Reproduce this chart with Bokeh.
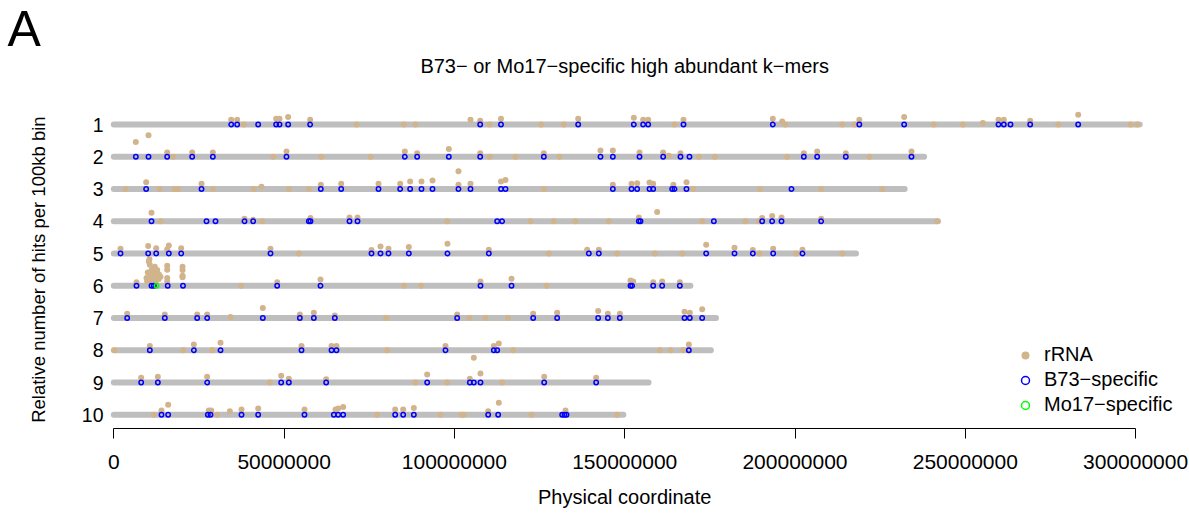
import numpy as np
from bokeh.plotting import figure
from bokeh.models import Range1d, FixedTicker, Label, Legend, LegendItem, LinearAxis
from bokeh.core.properties import value
from bokeh.embed import file_html
from bokeh.resources import INLINE

# ---------------- data ----------------
chromosomes = [1, 2, 3, 4, 5, 6, 7, 8, 9, 10]
chrom_labels = ["1", "2", "3", "4", "5", "6", "7", "8", "9", "10"]
chrom_length_mb = [301.2, 237.9, 232.2, 242.0, 217.9, 169.3, 176.8, 175.3, 157.0, 149.6]

x_ticks = [0, 50000000, 100000000, 150000000, 200000000, 250000000, 300000000]
x_tick_labels = ["0", "50000000", "100000000", "150000000", "200000000", "250000000", "300000000"]

# rRNA hits: position (Mb) and relative number of hits (bin height)
rrna_pos_chr1 = [34.46, 36.22, 38.18, 47.67, 48.65, 51.19, 57.65, 71.26, 85.15, 88.58, 104.73, 107.57, 110.40,
                 113.68, 125.48, 132.13, 136.34, 152.68, 155.42, 156.89, 164.62, 167.26, 193.49, 196.23, 197.21,
                 213.85, 217.47, 218.88, 232.05, 240.76, 249.27, 255.15, 259.75, 261.31, 269.05, 277.27, 283.14,
                 298.50, 300.46]
rrna_hits_chr1 = [1.5, 1.5, 0, 1.8, 1.8, 2.3, 1.5, 0, 0, 0, 1.5, 1.2, 0,
                  1.8, 0, 0, 1.8, 2.1, 1.5, 1.5, 0, 1.5, 1.8, 0.9, 0,
                  0, 0, 1.5, 2.3, 0, 0, 0.5, 1.5, 1.5, 1.2, 0, 3.0,
                  0, 0]
rrna_pos_chr2 = [6.47, 10.19, 15.67, 17.43, 23.01, 29.08, 46.79, 50.70, 60.98, 75.37, 85.45, 89.07, 98.36,
                 107.57, 110.40, 117.94, 126.26, 130.86, 142.89, 146.52, 154.35, 161.29, 162.96, 166.38,
                 171.76, 176.46, 197.70, 202.59, 206.51, 214.92, 221.87, 234.20]
rrna_hits_chr2 = [4.6, 6.7, 1.3, 0, 1.3, 1.3, 0, 1.6, 0, 0, 1.6, 1.1, 2.4,
                  1.1, 0, 0, 1.1, 0, 1.9, 1.9, 1.3, 1.3, 0.3, 1.1,
                  0, 0, 0, 1.1, 1.6, 1.1, 0, 1.6]
rrna_pos_chr3 = [3.44, 9.50, 13.42, 17.82, 18.80, 25.75, 29.08, 41.11, 43.36, 51.39, 57.26, 60.78, 66.76,
                 77.72, 84.08, 87.01, 90.34, 93.57, 101.20, 101.20, 104.73, 113.68, 115.00, 126.26, 146.52,
                 152.00, 153.66, 157.28, 158.36, 164.30, 168.14, 170.10, 189.68, 207.68, 225.59]
rrna_hits_chr3 = [0, 2.1, 0, 0, 0, 1.6, 0, 0, 0.7, 0, 0, 1.3, 1.6,
                  1.6, 1.6, 2.3, 2.3, 2.6, 5.5, 1.3, 1.6, 2.3, 2.8, 0, 1.3,
                  1.6, 1.8, 2.0, 1.6, 1.3, 2.1, 0, 0, 0, 0]
rrna_pos_chr4 = [11.07, 13.71, 38.37, 40.92, 43.56, 57.75, 69.20, 71.55, 97.88, 122.34, 129.19, 135.55,
                 145.34, 154.15, 159.53, 172.75, 185.47, 189.38, 190.36, 193.30, 196.04, 207.68, 241.74]
rrna_hits_chr4 = [2.6, 0, 0.8, 0.5, 0, 1.0, 1.2, 1.2, 0, 0, 0, 0,
                  0, 1.2, 2.9, 0, 0, 0, 1.0, 1.6, 1.2, 0.8, 0]
rrna_pos_chr5 = [1.97, 10.09, 12.44, 15.67, 16.16, 19.78, 46.01, 54.33, 75.66, 78.30, 80.65, 86.62, 97.97,
                 110.11, 127.72, 138.98, 142.40, 147.79, 158.85, 166.87, 173.92, 182.24, 187.62, 189.58,
                 193.59, 200.34, 202.20, 213.85]
rrna_hits_chr5 = [1.5, 2.3, 1.6, 1.3, 2.5, 1.6, 1.5, 0, 1.1, 2.2, 1.5, 2.0, 3.0,
                  1.2, 0, 1.2, 1.2, 0, 0, 0, 2.7, 1.8, 1.1, 0,
                  1.5, 0, 1.2, 0]
rrna_pos_chr6 = [6.66, 9.60, 9.80, 9.98, 10.28, 10.28, 10.45, 10.57, 10.78, 11.00, 11.27, 11.27, 11.57,
                 11.80, 12.04, 12.24, 12.24, 12.40, 12.74, 12.92, 13.21, 13.30, 13.71, 15.68, 15.68, 15.68,
                 15.68, 20.18, 20.18, 20.18, 20.18, 37.40, 47.97, 60.69, 85.15, 90.24, 107.66, 116.77,
                 127.04, 151.70, 152.49, 158.36, 161.00, 166.19]
rrna_hits_chr6 = [1.1, 2.4, 1.4, 4.1, 7.5, 1.3, 8.2, 6.5, 3.1, 4.6, 5.2, 2.1, 4.1,
                  1.6, 5.9, 2.8, 1.0, 4.4, 4.9, 3.8, 2.1, 3.4, 2.8, 6.2, 5.0, 2.4,
                  1.3, 5.9, 4.9, 3.1, 2.6, 0, 1.1, 1.9, 0, 0, 1.3, 2.2,
                  0, 1.6, 1.3, 1.1, 1.3, 1.1]
rrna_pos_chr7 = [3.93, 14.98, 24.48, 27.41, 34.26, 43.75, 54.62, 58.73, 64.89, 79.97, 100.81, 104.43,
                 109.13, 115.69, 123.13, 130.17, 142.21, 145.05, 148.57, 167.56, 169.12, 172.75]
rrna_hits_chr7 = [1.3, 1.1, 1.1, 1.1, 0.3, 3.1, 1.1, 1.6, 0.8, 0, 1.1, 0,
                  0, 0, 1.3, 1.6, 2.2, 1.3, 1.3, 1.9, 1.6, 2.7]
rrna_pos_chr8 = [0.21, 10.58, 20.37, 23.50, 28.88, 31.33, 55.11, 63.92, 65.38, 80.26, 97.39, 111.58,
                 113.04, 117.25, 160.31, 163.45, 167.17, 168.83]
rrna_hits_chr8 = [0, 1.3, 0, 1.8, 0, 2.3, 1.3, 1.3, 1.3, 0, 1.3, 1.3,
                  2.1, 0, 0, 0, 0, 1.8]
rrna_pos_chr9 = [8.04, 12.93, 27.41, 45.81, 49.14, 51.39, 62.35, 88.58, 92.01, 97.88, 104.53, 105.70,
                 107.66, 114.02, 126.36, 141.62]
rrna_hits_chr9 = [1.5, 1.8, 1.8, 0, 2.1, 1.2, 1.0, 0, 2.5, 0, 1.2, 7.7,
                  2.8, 0, 1.8, 1.5]
rrna_pos_chr10 = [11.75, 14.00, 15.96, 27.90, 28.59, 30.35, 34.07, 37.49, 42.39, 55.99, 65.09, 65.87,
                  67.34, 77.33, 82.61, 84.96, 88.09, 95.92, 102.09, 102.77, 109.92, 113.04, 122.64,
                  132.62, 147.79]
rrna_hits_chr10 = [0, 1.3, 3.1, 1.3, 1.3, 0, 1.1, 1.6, 1.9, 1.6, 1.6, 1.9,
                   2.4, 0, 1.6, 1.6, 2.1, 0, 0, 0, 1.1, 3.7, 0,
                   1.3, 0]

# B73-specific k-mer positions (Mb)
b73_pos_chr1 = [34.46, 36.22, 42.39, 47.67, 48.65, 51.19, 57.65, 107.57, 113.68, 136.34, 152.68, 155.42,
                156.89, 167.26, 193.49, 218.88, 232.05, 259.75, 261.31, 263.27, 269.05, 283.14]
b73_pos_chr2 = [6.47, 10.19, 15.67, 23.01, 29.08, 50.70, 85.45, 89.07, 98.36, 107.57, 126.26, 142.89,
                146.52, 154.35, 161.29, 166.38, 169.02, 202.59, 206.51, 214.92, 234.20]
b73_pos_chr3 = [9.50, 25.75, 60.78, 66.76, 77.72, 84.08, 87.01, 90.34, 93.57, 101.20, 104.73, 113.68,
                115.00, 146.52, 152.00, 153.66, 157.28, 158.36, 163.94, 164.62, 168.14, 198.97]
b73_pos_chr4 = [11.07, 27.22, 29.86, 38.37, 40.92, 57.26, 57.75, 69.20, 71.55, 112.56, 114.02, 154.15,
                154.64, 176.17, 190.36, 193.30, 196.04, 207.68]
b73_pos_chr5 = [1.97, 10.09, 12.44, 16.16, 19.78, 46.01, 75.66, 78.30, 80.65, 86.62, 97.97, 110.11,
                139.47, 142.40, 173.92, 182.24, 187.62, 193.59, 202.20]
b73_pos_chr6 = [6.66, 11.07, 11.75, 15.83, 20.32, 47.97, 60.69, 107.66, 116.77, 151.70, 152.19, 158.36,
                161.00, 166.19]
b73_pos_chr7 = [3.93, 14.98, 24.48, 27.41, 43.75, 54.62, 58.73, 64.89, 100.81, 123.13, 130.17, 142.21,
                145.05, 148.57, 167.56, 169.12, 172.75]
b73_pos_chr8 = [10.58, 23.50, 31.33, 55.11, 63.92, 65.38, 97.39, 111.58, 112.56, 168.83]
b73_pos_chr9 = [8.04, 12.93, 27.41, 49.14, 51.39, 62.35, 92.01, 104.53, 105.70, 107.66, 126.36, 141.62]
b73_pos_chr10 = [14.00, 15.96, 27.61, 28.39, 37.49, 42.39, 55.99, 64.60, 65.87, 67.34, 82.61, 84.96,
                 88.09, 109.92, 112.85, 131.64, 132.32, 132.91]

# Mo17-specific k-mer positions
mo17_chrom = [6]
mo17_pos_mb = [12.54]

# ---------------- assemble ----------------
rrna_pos = [rrna_pos_chr1, rrna_pos_chr2, rrna_pos_chr3, rrna_pos_chr4, rrna_pos_chr5,
            rrna_pos_chr6, rrna_pos_chr7, rrna_pos_chr8, rrna_pos_chr9, rrna_pos_chr10]
rrna_hits = [rrna_hits_chr1, rrna_hits_chr2, rrna_hits_chr3, rrna_hits_chr4, rrna_hits_chr5,
             rrna_hits_chr6, rrna_hits_chr7, rrna_hits_chr8, rrna_hits_chr9, rrna_hits_chr10]
b73_pos = [b73_pos_chr1, b73_pos_chr2, b73_pos_chr3, b73_pos_chr4, b73_pos_chr5,
           b73_pos_chr6, b73_pos_chr7, b73_pos_chr8, b73_pos_chr9, b73_pos_chr10]

HIT_SCALE = 0.1  # rows per unit of relative hits
MB = 1e6

rx, ry = [], []
for c, pos, hits in zip(chromosomes, rrna_pos, rrna_hits):
    for p_, h_ in zip(pos, hits):
        rx.append(p_ * MB)
        ry.append(c - h_ * HIT_SCALE)
bx, by = [], []
for c, pos in zip(chromosomes, b73_pos):
    for p_ in pos:
        bx.append(p_ * MB)
        by.append(c)
mx = [p_ * MB for p_ in mo17_pos_mb]
my = list(mo17_chrom)

FONT = "Liberation Sans"
TAN = "#D2B48C"

# layout constants (pixels -> data)
PX_PER_BP = 3.406 / MB
X0_PX = 113.3                # pixel of position 0
ROW_PX = 32.25               # pixels per chromosome row
ROW1_PX = 124.0              # pixel of chromosome 1
W, H = 1189, 514
FRAME_BOTTOM = 428


def xdata(px):
    return (px - X0_PX) / PX_PER_BP


def ydata(px):
    return 1 + (px - ROW1_PX) / ROW_PX


p = figure(width=W, height=H,
           x_range=Range1d(xdata(0), xdata(W)),
           y_range=Range1d(ydata(FRAME_BOTTOM), ydata(0)),
           output_backend="svg", toolbar_location=None,
           min_border_left=0, min_border_right=0,
           min_border_top=0, min_border_bottom=H - FRAME_BOTTOM,
           title_location=None)
p.outline_line_color = None
p.grid.grid_line_color = None
p.background_fill_color = "white"
p.border_fill_color = "white"
p.yaxis.visible = False

p.segment(x0=[0] * len(chromosomes), y0=chromosomes,
          x1=[L * MB for L in chrom_length_mb], y1=chromosomes,
          line_width=6, line_color="#BEBEBE", line_cap="round")

r_rrna = p.scatter(x=rx, y=ry, marker="circle", size=6, fill_color=TAN, line_color=None)
r_b73 = p.scatter(x=bx, y=by, marker="circle", size=4.4, fill_color=None,
                  line_color="#0000FF", line_width=1.5)
r_mo17 = p.scatter(x=mx, y=my, marker="circle", size=4.4, fill_color=None,
                   line_color="#00FF00", line_width=1.5)

# chromosome labels (y tick labels)
p.text(x=[xdata(103)] * len(chromosomes), y=chromosomes, text=chrom_labels,
       text_align="right", text_baseline="middle",
       text_font=value(FONT), text_font_size=value("19.5px"), text_color="black")

# x axis
xa = p.xaxis[0]
xa.ticker = FixedTicker(ticks=x_ticks)
xa.major_label_overrides = dict(zip(x_ticks, x_tick_labels))
xa.bounds = (x_ticks[0], x_ticks[-1])
xa.minor_tick_line_color = None
xa.minor_tick_out = 0
xa.major_tick_out = 10
xa.major_tick_in = 0
xa.major_label_standoff = 16
xa.major_label_text_font = FONT
xa.major_label_text_font_size = "21px"
xa.major_label_text_color = "black"
xa.axis_line_color = "black"
xa.major_tick_line_color = "black"

# x axis title, centred under the 0..300 Mb axis (second, line-less axis below the first)
x_mid = (x_ticks[0] + x_ticks[-1]) // 2
xt = LinearAxis(ticker=FixedTicker(ticks=[x_mid]),
                major_label_overrides={x_mid: "Physical coordinate"},
                axis_line_color=None, major_tick_line_color=None, minor_tick_line_color=None,
                major_tick_out=0, major_tick_in=0, minor_tick_out=0, minor_tick_in=0,
                major_label_standoff=14,
                major_label_text_font=FONT, major_label_text_font_size="20px",
                major_label_text_color="black")
p.add_layout(xt, "below")

# y axis title
p.add_layout(Label(x=xdata(38), y=(chromosomes[0] + chromosomes[-1]) / 2,
                   text="Relative number of hits per 100kb bin", angle=np.pi / 2,
                   text_align="center", text_baseline="middle",
                   text_font=FONT, text_font_size="18.5px", text_color="black"))

# title
p.add_layout(Label(x=x_mid, y=ydata(65),
                   text="B73\u2212 or Mo17\u2212specific high abundant k\u2212mers",
                   text_align="center", text_baseline="middle",
                   text_font=FONT, text_font_size="20px", text_color="black"))

# panel letter
p.add_layout(Label(x=xdata(7), y=ydata(28.5), text="A", text_font=FONT, text_font_size="50px",
                   text_align="left", text_baseline="middle", text_color="black"))

legend = Legend(items=[LegendItem(label="rRNA", renderers=[r_rrna]),
                       LegendItem(label="B73\u2212specific", renderers=[r_b73]),
                       LegendItem(label="Mo17\u2212specific", renderers=[r_mo17])],
                location=(1015, 11.5), orientation="vertical",
                border_line_color=None, background_fill_alpha=0,
                padding=0, margin=0, spacing=1,
                glyph_width=20, glyph_height=24, label_height=24, label_standoff=9,
                label_text_font=FONT, label_text_font_size="20px", label_text_color="black")
p.add_layout(legend)

open("out.html", "w").write(file_html(p, INLINE))
